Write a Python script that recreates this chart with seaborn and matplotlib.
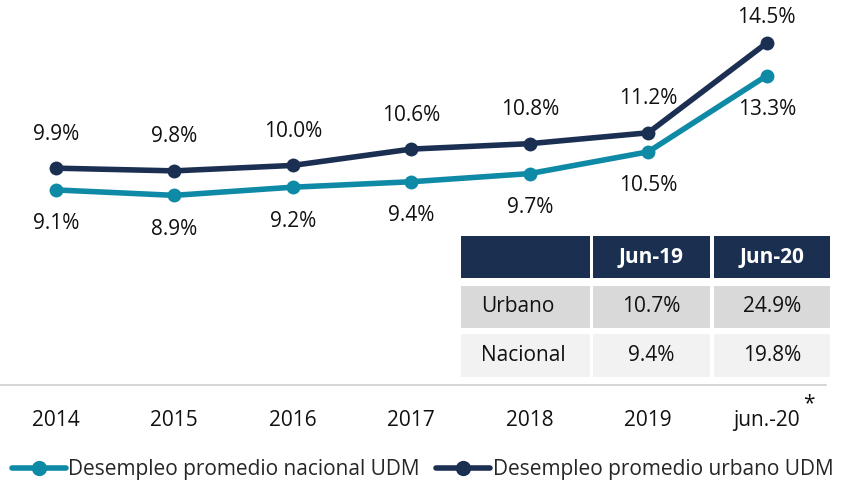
import matplotlib
matplotlib.use("Agg")
import matplotlib.pyplot as plt
import seaborn as sns
import pandas as pd
from matplotlib.patches import Rectangle
from matplotlib.lines import Line2D

categories = ["2014", "2015", "2016", "2017", "2018", "2019", "jun.-20"]
nacional = [9.1, 8.9, 9.2, 9.4, 9.7, 10.5, 13.3]
urbano = [9.9, 9.8, 10.0, 10.6, 10.8, 11.2, 14.5]
label_nac = "Desempleo promedio nacional UDM"
label_urb = "Desempleo promedio urbano UDM"

table_cols = ["", "Jun-19", "Jun-20"]
table_rows = ["Urbano", "Nacional"]
table_vals = [["10.7%", "24.9%"], ["9.4%", "19.8%"]]

c_nac = "#0e8aa6"
c_urb = "#1b2f53"

sns.set_theme(style="white")
plt.rcParams['font.family'] = ['Open Sans', 'DejaVu Sans']
FS = 15

df = pd.DataFrame({
    "x": list(range(len(categories))) * 2,
    "y": nacional + urbano,
    "serie": [label_nac] * len(categories) + [label_urb] * len(categories),
})

fig = plt.figure(figsize=(8.45, 4.82), dpi=100)
ax = fig.add_axes([0.0, 1 - 385 / 482, 826 / 845, 385 / 482])

sns.lineplot(data=df, x="x", y="y", hue="serie", palette=[c_nac, c_urb],
             marker="o", markersize=10, markeredgewidth=0, linewidth=4,
             ax=ax, legend=False)

ax.set_xlim(-0.47, 6.5)
ax.set_ylim(1.93, 16.08)
ax.set_xticks(range(len(categories)))
ax.set_xticklabels(categories, fontsize=FS, color="#111111")
ax.tick_params(axis="x", length=0, pad=18)
ax.set_yticks([])
ax.set_xlabel("")
ax.set_ylabel("")
for s in ["top", "left", "right"]:
    ax.spines[s].set_visible(False)
ax.spines["bottom"].set_color("#d0d0d0")
ax.spines["bottom"].set_linewidth(1.2)

last = len(categories) - 1
for i, (n, u) in enumerate(zip(nacional, urbano)):
    up = 18 if i == last else 24.5
    ax.annotate(f"{u:.1f}%", (i, u), xytext=(0, up), textcoords="offset points",
                ha="center", va="center", fontsize=FS, color="#111111")
    ax.annotate(f"{n:.1f}%", (i, n), xytext=(0, -24.5), textcoords="offset points",
                ha="center", va="center", fontsize=FS, color="#111111")

W, H = 845, 482
fig.text(809 / W, 1 - 404 / H, "*", ha="center", va="center", fontsize=FS, color="#111111")

# Table
col_x = [(461, 590), (593, 710), (714, 830)]
row_y = [(236, 278), (286, 328), (334, 377)]
row_colors = ["#1b3050", "#d9d9d9", "#f2f2f2"]
cells = [table_cols] + [[r] + v for r, v in zip(table_rows, table_vals)]
for ri, (y0, y1) in enumerate(row_y):
    for ci, (x0, x1) in enumerate(col_x):
        fig.patches.append(Rectangle((x0 / W, 1 - y1 / H), (x1 - x0) / W, (y1 - y0) / H,
                                     transform=fig.transFigure, facecolor=row_colors[ri],
                                     edgecolor="none", zorder=5))
        txt = cells[ri][ci]
        if not txt:
            continue
        yc = 1 - (y0 + y1) / 2 / H
        if ci == 0:
            fig.text((x0 + 20) / W, yc, txt, ha="left", va="center", fontsize=FS,
                     color="#111111", zorder=6)
        else:
            fig.text((x0 + x1) / 2 / W, yc, txt, ha="center", va="center", fontsize=FS,
                     color="white" if ri == 0 else "#111111",
                     fontweight="bold" if ri == 0 else "normal", zorder=6)

handles = [Line2D([], [], color=c_nac, lw=4, marker="o", markersize=11, markeredgewidth=0),
           Line2D([], [], color=c_urb, lw=4, marker="o", markersize=11, markeredgewidth=0)]
fig.legend(handles, [label_nac, label_urb], loc="center", bbox_to_anchor=(0.5, 1 - 470 / 482),
           ncol=2, frameon=False, fontsize=FS, handlelength=2.6, handletextpad=0.1,
           columnspacing=0.8, borderaxespad=0)

fig.savefig("out.png", dpi=100)
